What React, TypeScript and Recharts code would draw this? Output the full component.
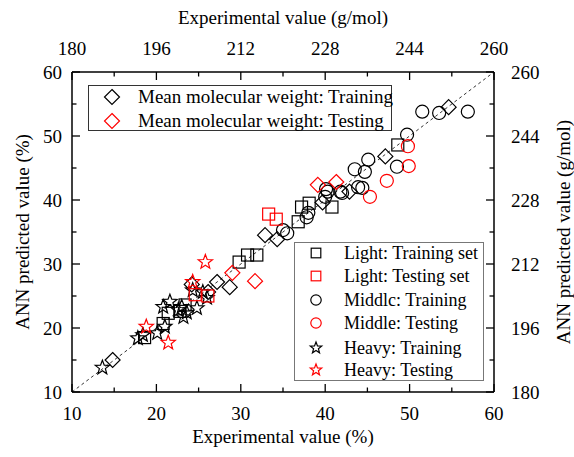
import React from 'react';
import { ScatterChart, Scatter, XAxis, YAxis, ReferenceLine } from 'recharts';

const FONT = '"Liberation Serif", "Times New Roman", Times, serif';
const BLACK = '#000000';
const RED = '#ff0000';

// axis ticks
const pctTicks = [10, 15, 20, 25, 30, 35, 40, 45, 50, 55, 60];
const pctMajor = [10, 20, 30, 40, 50, 60];
const molTicks = [180, 188, 196, 204, 212, 220, 228, 236, 244, 252, 260];
const molMajor = [180, 196, 212, 228, 244, 260];

// y = x reference line
const diagonal = [10, 60];

// mean molecular weight: [experimental, predicted] in g/mol (top / right axes)
const mmwTraining = [
  [187.7, 188.0], [202.7, 206.9], [205.8, 205.0], [207.5, 207.5], [209.9, 206.2],
  [216.6, 219.2], [218.9, 218.2], [227.5, 227.4], [232.6, 230.1], [239.4, 238.9], [251.4, 251.2],
];
const mmwTesting = [[210.4, 209.8], [214.7, 207.7], [226.6, 231.8], [230.1, 232.5]];

// fractions: [experimental, predicted] in % (bottom / left axes)
const lightTraining = [
  [18.6, 18.5], [20.8, 20.7], [21.4, 22.3], [22.8, 22.6], [23.4, 23.6],
  [29.8, 30.3], [30.8, 31.4], [31.9, 31.4], [36.8, 36.6], [37.2, 38.9],
  [38.1, 39.5], [40.8, 38.9], [48.6, 48.6],
];
const lightTesting = [[24.6, 25.2], [26.1, 25.0], [33.3, 37.8], [34.2, 37.0]];

const middleTraining = [
  [35.0, 35.3], [35.5, 34.8], [37.8, 37.3], [38.0, 38.0], [40.0, 40.5],
  [40.1, 41.7], [40.3, 41.3], [41.8, 41.3], [42.0, 41.1], [43.9, 42.0],
  [44.4, 41.9], [43.5, 44.8], [44.7, 44.4], [45.1, 46.3], [48.5, 45.2],
  [49.7, 50.2], [51.5, 53.8], [53.5, 53.6], [56.9, 53.8],
];
const middleTesting = [[45.3, 40.5], [47.3, 43.0], [49.9, 45.3], [49.8, 48.4]];

const heavyTraining = [
  [13.6, 13.8], [17.8, 18.4], [18.4, 18.9], [20.1, 19.2], [21.0, 20.2],
  [20.8, 23.3], [21.6, 24.1], [22.6, 22.8], [23.0, 23.3], [23.2, 21.7],
  [23.6, 22.4], [24.8, 23.1], [24.3, 25.9], [25.5, 25.6], [26.0, 24.7],
];
const heavyTesting = [[18.8, 20.2], [21.4, 17.7], [24.3, 27.2], [25.8, 30.3]];

type Kind = 'diamond' | 'square' | 'circle' | 'star';

const toPoints = (rows: number[][]) => rows.map(([x, y]) => ({ x, y }));

const series = [
  { name: 'mmwTrain', rows: mmwTraining, kind: 'diamond' as Kind, color: BLACK, xa: 't', ya: 'r' },
  { name: 'lightTrain', rows: lightTraining, kind: 'square' as Kind, color: BLACK, xa: 'b', ya: 'l' },
  { name: 'middleTrain', rows: middleTraining, kind: 'circle' as Kind, color: BLACK, xa: 'b', ya: 'l' },
  { name: 'heavyTrain', rows: heavyTraining, kind: 'star' as Kind, color: BLACK, xa: 'b', ya: 'l' },
  { name: 'mmwTest', rows: mmwTesting, kind: 'diamond' as Kind, color: RED, xa: 't', ya: 'r' },
  { name: 'lightTest', rows: lightTesting, kind: 'square' as Kind, color: RED, xa: 'b', ya: 'l' },
  { name: 'middleTest', rows: middleTesting, kind: 'circle' as Kind, color: RED, xa: 'b', ya: 'l' },
  { name: 'heavyTest', rows: heavyTesting, kind: 'star' as Kind, color: RED, xa: 'b', ya: 'l' },
];

const legendTop = [
  { label: 'Mean molecular weight: Training', kind: 'diamond' as Kind, color: BLACK },
  { label: 'Mean molecular weight: Testing', kind: 'diamond' as Kind, color: RED },
];
const legendBottom = [
  { label: 'Light: Training set', kind: 'square' as Kind, color: BLACK },
  { label: 'Light: Testing set', kind: 'square' as Kind, color: RED },
  { label: 'Middlc: Training', kind: 'circle' as Kind, color: BLACK },
  { label: 'Middle: Testing', kind: 'circle' as Kind, color: RED },
  { label: 'Heavy: Training', kind: 'star' as Kind, color: BLACK },
  { label: 'Heavy: Testing', kind: 'star' as Kind, color: RED },
];

function Marker({ kind, cx, cy, color, s }: { kind: Kind; cx: number; cy: number; color: string; s: number }) {
  const common = { fill: 'none', stroke: color, strokeWidth: 1.2 };
  if (kind === 'diamond') {
    return <polygon points={`${cx},${cy - s} ${cx + s},${cy} ${cx},${cy + s} ${cx - s},${cy}`} {...common} />;
  }
  if (kind === 'square') {
    const h = s * 0.8;
    return <rect x={cx - h} y={cy - h} width={2 * h} height={2 * h} {...common} />;
  }
  if (kind === 'circle') {
    return <circle cx={cx} cy={cy} r={s * 0.87} {...common} />;
  }
  const pts: string[] = [];
  for (let i = 0; i < 10; i++) {
    const r = i % 2 === 0 ? s : s * 0.42;
    const a = -Math.PI / 2 + (i * Math.PI) / 5;
    pts.push(`${cx + r * Math.cos(a)},${cy + r * Math.sin(a)}`);
  }
  return <polygon points={pts.join(' ')} {...common} />;
}

const MAJOR = 8;
const MINOR = 4.5;
const tickStyle = { fontFamily: FONT, fontSize: 19 };

function makeTick(side: 'bottom' | 'top' | 'left' | 'right', majors: number[]) {
  return (props: any) => {
    const { x, y, payload } = props;
    const v = payload.value;
    const major = majors.includes(v);
    const len = major ? MAJOR : MINOR;
    let line;
    let text = null;
    if (side === 'bottom') {
      line = <line x1={x} x2={x} y1={y} y2={y - len} stroke="#000" strokeWidth={1.3} />;
      if (major) text = <text x={x} y={y + 28} textAnchor="middle" fill="#000" style={tickStyle}>{v}</text>;
    } else if (side === 'top') {
      line = <line x1={x} x2={x} y1={y} y2={y + len} stroke="#000" strokeWidth={1.3} />;
      if (major) text = <text x={x} y={y - 17} textAnchor="middle" fill="#000" style={tickStyle}>{v}</text>;
    } else if (side === 'left') {
      line = <line x1={x} x2={x + len} y1={y} y2={y} stroke="#000" strokeWidth={1.3} />;
      if (major) text = <text x={x - 10} y={y + 6.5} textAnchor="end" fill="#000" style={tickStyle}>{v}</text>;
    } else {
      line = <line x1={x} x2={x - len} y1={y} y2={y} stroke="#000" strokeWidth={1.3} />;
      if (major) text = <text x={x + 17} y={y + 6.5} textAnchor="start" fill="#000" style={tickStyle}>{v}</text>;
    }
    return (
      <g>
        {line}
        {text}
      </g>
    );
  };
}

const axisLine = { stroke: '#000', strokeWidth: 1.5 };
const titleStyle = { fontFamily: FONT, fontSize: 19, fill: '#000' };

function LegendBox({ items, left, top, width, height, markerX, textX, rowY, border, size, fontSize }: any) {
  return (
    <div
      style={{
        position: 'absolute',
        left,
        top,
        width,
        height,
        border: `1px solid ${border}`,
        boxSizing: 'border-box',
        background: '#fff',
        fontFamily: FONT,
        fontSize,
        color: '#000',
      }}
    >
      {items.map((it: any, i: number) => (
        <div key={it.label} style={{ position: 'absolute', left: 0, top: rowY[i] - 12, height: 24, width: width - 2 }}>
          <svg width={30} height={24} style={{ position: 'absolute', left: markerX - 15, top: 0 }}>
            <Marker kind={it.kind} cx={15} cy={12} color={it.color} s={size} />
          </svg>
          <span style={{ position: 'absolute', left: textX, top: 0, lineHeight: '24px', whiteSpace: 'nowrap' }}>
            {it.label}
          </span>
        </div>
      ))}
    </div>
  );
}

export default function App() {
  return (
    <div style={{ position: 'absolute', left: 0, top: 0, width: 574, height: 457, background: '#fff' }}>
      <ScatterChart width={574} height={457} margin={{ top: 0, right: 0, bottom: 0, left: 0 }}>
        <XAxis
          xAxisId="b"
          dataKey="x"
          type="number"
          domain={[10, 60]}
          ticks={pctTicks}
          interval={0}
          height={65}
          tickSize={0}
          tickMargin={0}
          axisLine={axisLine}
          tickLine={false}
          tick={makeTick('bottom', pctMajor)}
          label={{ value: 'Experimental value (%)', position: 'insideBottom', offset: 14, style: titleStyle }}
        />
        <XAxis
          xAxisId="t"
          dataKey="x"
          orientation="top"
          type="number"
          domain={[180, 260]}
          ticks={molTicks}
          interval={0}
          height={72}
          tickSize={0}
          tickMargin={0}
          axisLine={axisLine}
          tickLine={false}
          tick={makeTick('top', molMajor)}
          label={{ value: 'Experimental value (g/mol)', position: 'insideTop', offset: 11, style: titleStyle }}
        />
        <YAxis
          yAxisId="l"
          dataKey="y"
          type="number"
          domain={[10, 60]}
          ticks={pctTicks}
          interval={0}
          width={72}
          tickSize={0}
          tickMargin={0}
          axisLine={axisLine}
          tickLine={false}
          tick={makeTick('left', pctMajor)}
          label={{
            value: 'ANN predicted value (%)',
            angle: -90,
            position: 'insideLeft',
            offset: 22,
            style: { ...titleStyle, textAnchor: 'middle' },
          }}
        />
        <YAxis
          yAxisId="r"
          dataKey="y"
          orientation="right"
          type="number"
          domain={[180, 260]}
          ticks={molTicks}
          interval={0}
          width={80}
          tickSize={0}
          tickMargin={0}
          axisLine={axisLine}
          tickLine={false}
          tick={makeTick('right', molMajor)}
          label={{
            value: 'ANN predicted value (g/mol)',
            angle: -90,
            position: 'insideRight',
            offset: 11,
            style: { ...titleStyle, textAnchor: 'middle' },
          }}
        />
        <ReferenceLine
          xAxisId="b"
          yAxisId="l"
          segment={[
            { x: diagonal[0], y: diagonal[0] },
            { x: diagonal[1], y: diagonal[1] },
          ]}
          stroke="#333"
          strokeWidth={1}
          strokeDasharray="3 3"
        />
        {series.map((s) => (
          <Scatter
            key={s.name}
            xAxisId={s.xa}
            yAxisId={s.ya}
            data={toPoints(s.rows)}
            isAnimationActive={false}
            shape={(p: any) => <Marker kind={s.kind} cx={p.cx} cy={p.cy} color={s.color} s={7.5} />}
          />
        ))}
      </ScatterChart>
      <LegendBox
        items={legendTop}
        left={88}
        top={85}
        width={304}
        height={46}
        markerX={23}
        textX={49}
        rowY={[11, 35]}
        border="#333"
        size={7.5}
        fontSize={19}
      />
      <LegendBox
        items={legendBottom}
        left={294}
        top={242}
        width={190}
        height={139}
        markerX={21}
        textX={49}
        rowY={[10, 33, 57, 80, 105, 127]}
        border="#777"
        size={6}
        fontSize={18}
      />
    </div>
  );
}
